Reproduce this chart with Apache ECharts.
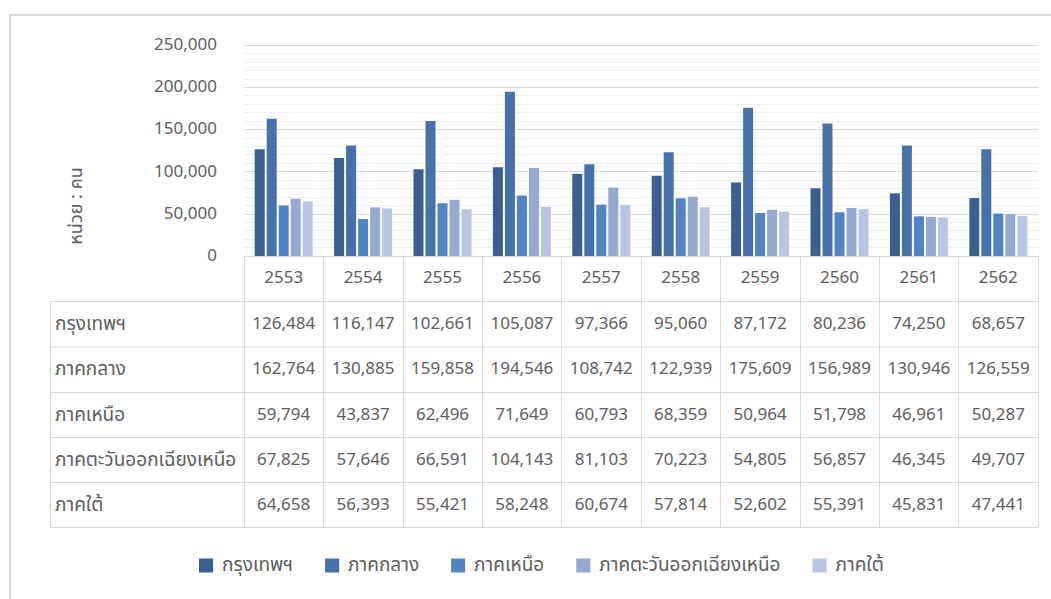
<!DOCTYPE html>
<html>
<head>
<meta charset="utf-8">
<script src="https://cdn.jsdelivr.net/npm/echarts@6/dist/echarts.min.js"></script>
<style>
  html, body { margin: 0; padding: 0; background: #fff; }
  #chart { width: 1051px; height: 599px; }
</style>
</head>
<body>
<div id="chart"></div>
<script>
// data
const years = ['2553', '2554', '2555', '2556', '2557', '2558', '2559', '2560', '2561', '2562']
const regionNames = ['กรุงเทพฯ', 'ภาคกลาง', 'ภาคเหนือ', 'ภาคตะวันออกเฉียงเหนือ', 'ภาคใต้']
const bangkok = [126484, 116147, 102661, 105087, 97366, 95060, 87172, 80236, 74250, 68657]
const central = [162764, 130885, 159858, 194546, 108742, 122939, 175609, 156989, 130946, 126559]
const north = [59794, 43837, 62496, 71649, 60793, 68359, 50964, 51798, 46961, 50287]
const northeast = [67825, 57646, 66591, 104143, 81103, 70223, 54805, 56857, 46345, 49707]
const south = [64658, 56393, 55421, 58248, 60674, 57814, 52602, 55391, 45831, 47441]
const unitLabel = 'หน่วย : คน'

const regionValues = [bangkok, central, north, northeast, south]
const colors = ['#3b5f8f', '#4672a9', '#5284c1', '#95a9d1', '#b9c6e3']

const FONT = '"Noto Sans Thai", "Noto Sans", "DejaVu Sans", sans-serif'
const TEXT = '#5e5e5e'
const LINE = '#d9d9d9'

// layout of the plot + data table
const plotLeft = 244, plotRight = 1038, plotTop = 45, axisY = 256
const tableLeft = 50
const rowLines = [301.5, 347, 392.5, 437.5, 482.5, 527.5]
const fmt = v => v.toLocaleString('en-US')

const chart = echarts.init(document.getElementById('chart'), null, { renderer: 'svg' })

// one hidden-line category axis per table row carries the row's values
const tableAxes = regionValues.map((vals, i) => ({
  type: 'category',
  gridIndex: 0,
  position: 'bottom',
  data: vals.map(fmt),
  offset: (rowLines[i] + rowLines[i + 1]) / 2 - 278,
  axisLine: { show: false },
  axisTick: { show: false },
  splitLine: { show: false },
  axisLabel: { interval: 0, margin: 13, color: TEXT, fontSize: 17, fontFamily: FONT }
}))

const graphics = [
  // outer chart border (top + left visible)
  { type: 'polyline', shape: { points: [[10, 700], [10, 15], [1100, 15]] },
    style: { stroke: '#d9d9d9', lineWidth: 2, fill: null } },
  { type: 'text', x: 76, y: 206, rotation: Math.PI / 2,
    style: { text: unitLabel, fill: TEXT, font: '18px ' + FONT, textAlign: 'center', textVerticalAlign: 'middle' } },
  // left border of the row-label column
  { type: 'line', shape: { x1: tableLeft + 0.5, y1: rowLines[0], x2: tableLeft + 0.5, y2: rowLines[5] },
    style: { stroke: LINE, lineWidth: 1 } }
]
rowLines.forEach(y => {
  graphics.push({ type: 'line', shape: { x1: tableLeft, y1: y, x2: plotRight, y2: y },
    style: { stroke: LINE, lineWidth: 1 } })
})
regionNames.forEach((name, i) => {
  graphics.push({ type: 'text', x: tableLeft + 5, y: (rowLines[i] + rowLines[i + 1]) / 2,
    style: { text: name, fill: TEXT, font: '19px ' + FONT, textAlign: 'left', textVerticalAlign: 'middle' } })
})

const option = {
  backgroundColor: '#fff',
  animation: false,
  color: colors,
  grid: { left: plotLeft, right: 1051 - plotRight, top: plotTop, bottom: 599 - axisY, containLabel: false },
  legend: {
    data: regionNames,
    top: 551,
    left: 194,
    icon: 'rect',
    itemWidth: 14,
    itemHeight: 14,
    itemGap: 32,
    textStyle: { color: TEXT, fontSize: 19, fontFamily: FONT, padding: [0, 0, 0, 4] }
  },
  xAxis: [{
    type: 'category',
    data: years,
    axisLine: { show: true, lineStyle: { color: LINE } },
    axisTick: { show: true, interval: 0, length: rowLines[5] - axisY, lineStyle: { color: LINE } },
    axisLabel: { interval: 0, margin: 13, color: TEXT, fontSize: 17, fontFamily: FONT },
    splitLine: { show: false }
  }].concat(tableAxes),
  yAxis: {
    type: 'value',
    min: 0,
    max: 250000,
    interval: 50000,
    axisLine: { show: false },
    axisTick: { show: false },
    axisLabel: { margin: 27, color: TEXT, fontSize: 17, fontFamily: FONT, formatter: v => fmt(v) },
    splitLine: { show: true, lineStyle: { color: '#d9d9d9' } },
    minorTick: { show: false, splitNumber: 5 },
    minorSplitLine: { show: true, lineStyle: { color: '#efefef' } }
  },
  series: regionNames.map((name, i) => ({
    name: name,
    type: 'bar',
    xAxisIndex: 0,
    data: regionValues[i],
    barWidth: 10,
    barGap: '20%',
    itemStyle: { color: colors[i] }
  })),
  graphic: graphics
}

chart.setOption(option)
</script>
</body>
</html>
